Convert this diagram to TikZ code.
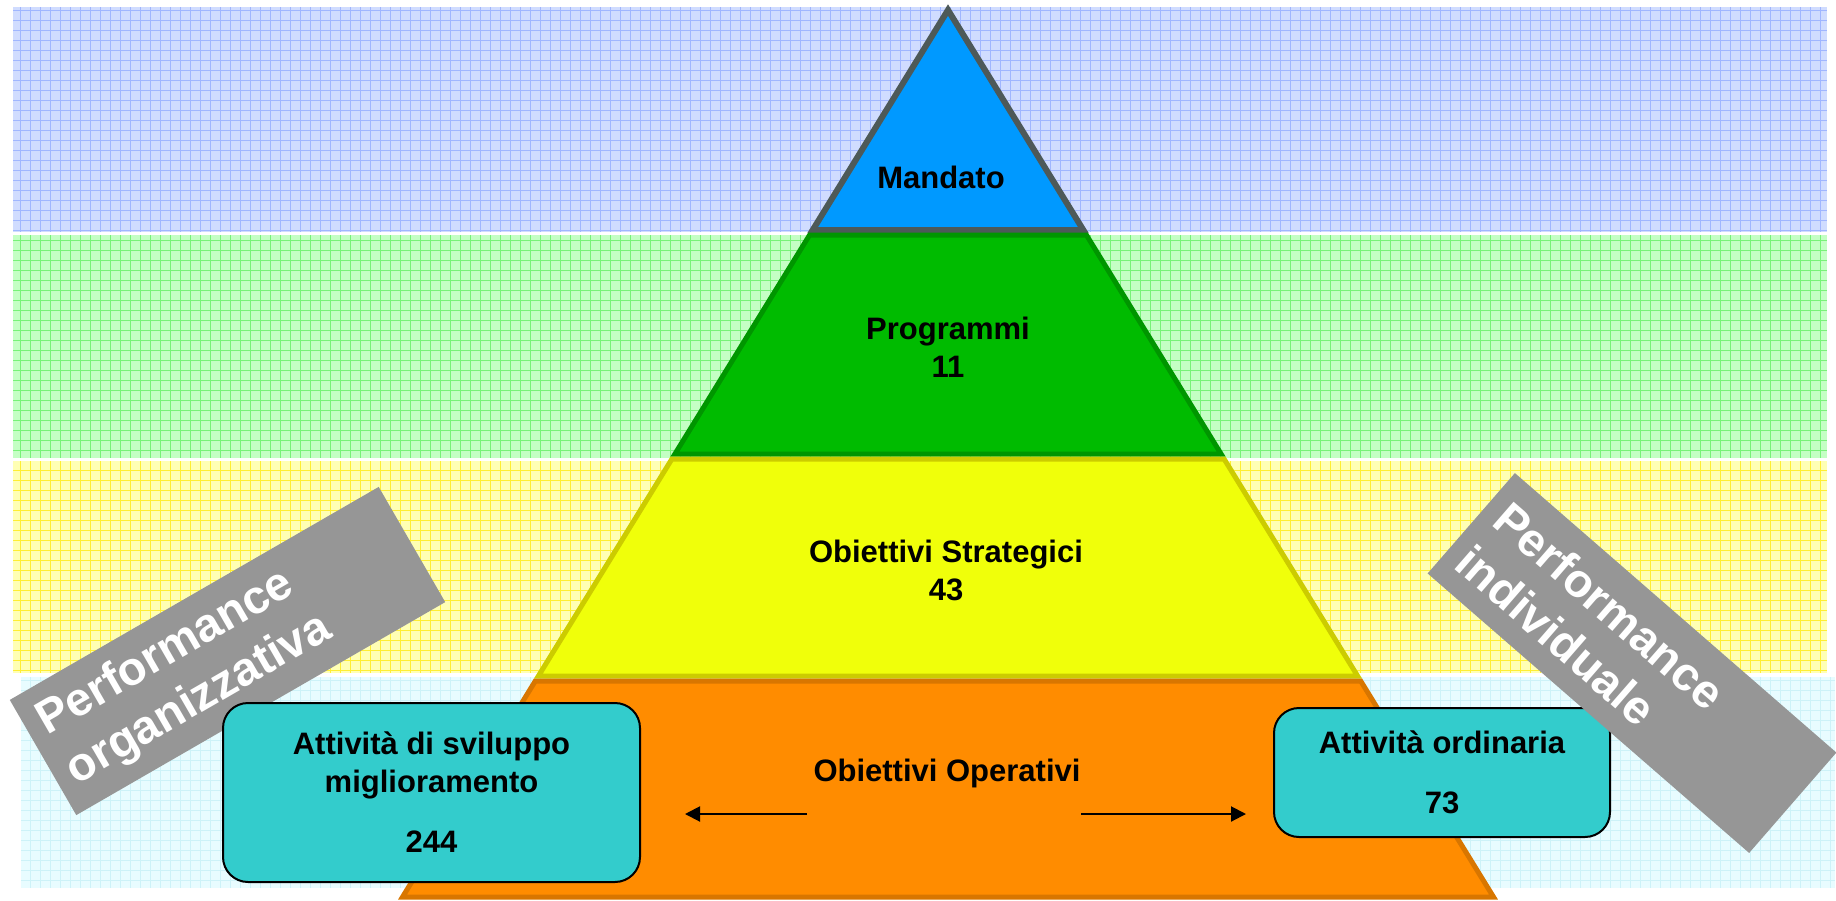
\documentclass[tikz,border=0pt]{standalone}
\usepackage{fontspec}
\setmainfont{Liberation Sans}
\usepackage{tikz}
\usetikzlibrary{arrows.meta}

\definecolor{bandblue}{RGB}{208,220,255}
\definecolor{gridblue}{RGB}{160,182,255}
\definecolor{bandgreen}{RGB}{196,255,196}
\definecolor{gridgreen}{RGB}{120,242,120}
\definecolor{bandyellow}{RGB}{255,255,180}
\definecolor{gridyellow}{RGB}{255,238,50}
\definecolor{bandcyan}{RGB}{232,252,255}
\definecolor{gridcyan}{RGB}{205,242,248}
\definecolor{mandatofill}{RGB}{0,153,255}
\definecolor{mandatoline}{RGB}{77,89,89}
\definecolor{progfill}{RGB}{0,187,0}
\definecolor{progline}{RGB}{0,150,0}
\definecolor{strafill}{RGB}{240,255,10}
\definecolor{straline}{RGB}{204,204,0}
\definecolor{opfill}{RGB}{255,140,0}
\definecolor{opline}{RGB}{216,118,0}
\definecolor{boxcyan}{RGB}{51,204,204}
\definecolor{perfgray}{RGB}{150,150,150}

\tikzstyle{label} = [font=\fontsize{31}{38}\selectfont\bfseries, align=center]
\tikzstyle{attiv} = [draw=black, line width=2pt, fill=boxcyan, rounded corners=25pt,
                     font=\fontsize{31}{38}\selectfont\bfseries, align=center]
\tikzstyle{perf} = [fill=perfgray, text=white, font=\fontsize{47}{57}\selectfont\bfseries,
                    text width=396pt, inner xsep=15pt, minimum height=133pt, align=left]
\tikzstyle{band} = [step=10pt, line width=1pt]
\tikzstyle{layer} = [line width=5pt]

\begin{document}
\begin{tikzpicture}[x=1pt, y=-1pt]
  \useasboundingbox (0,0) rectangle (1836,900);
  % fasce di sfondo
  \fill [bandblue] (13,7) rectangle (1827,232);
  \draw [band, gridblue] (13,7) grid (1827,232);
  \fill [bandgreen] (13,235) rectangle (1827,458);
  \draw [band, gridgreen] (13,235) grid (1827,458);
  \fill [bandyellow] (13,461) rectangle (1827,673);
  \draw [band, gridyellow] (13,461) grid (1827,673);
  \fill [bandcyan] (21,677) rectangle (1835,888);
  \draw [band, gridcyan] (21,677) grid (1835,888);

  % piramide
  \draw [layer, line width=6pt, draw=mandatoline, fill=mandatofill]
    (948,10) -- (1083.3,230) -- (812.7,230) -- cycle;
  \draw [layer, draw=progline, fill=progfill]
    (809.6,235) -- (1086.4,235) -- (1221.1,454) -- (674.9,454) -- cycle;
  \draw [layer, draw=straline, fill=strafill]
    (671.9,459) -- (1224.1,459) -- (1357.6,676) -- (538.4,676) -- cycle;
  \draw [layer, draw=opline, fill=opfill]
    (535.3,681) -- (1360.7,681) -- (1493.5,897) -- (402.5,897) -- cycle;

  \node (mand) at (941,177) [label] {Mandato};
  \node (prog) at (948,347) [label] {Programmi\\11};
  \node (stra) at (946,570) [label] {Obiettivi Strategici\\43};
  \node (oper) at (947,773) [label] {Obiettivi Operativi};

  \node (porg) at (227.5,651) [perf, rotate=30] {Performance\\organizzativa};

  \node (svil) at (431.5,792.5) [attiv, minimum width=417pt, minimum height=179pt]
    {Attivit\`a di sviluppo\\miglioramento\\[22pt]244};
  \node (ord) at (1442,772.5) [attiv, minimum width=336pt, minimum height=129pt]
    {Attivit\`a ordinaria\\[22pt]73};

  \node (pind) at (1632,663) [perf, rotate=-41] {Performance\\individuale};

  \coordinate (opsx) at (807,814);
  \coordinate (svilend) at (685,814);
  \coordinate (opdx) at (1081,814);
  \coordinate (ordend) at (1246,814);
  \draw [-{Triangle[length=15pt,width=15pt]}, line width=2pt] (opsx) to (svilend);
  \draw [-{Triangle[length=15pt,width=15pt]}, line width=2pt] (opdx) to (ordend);
\end{tikzpicture}
\end{document}
